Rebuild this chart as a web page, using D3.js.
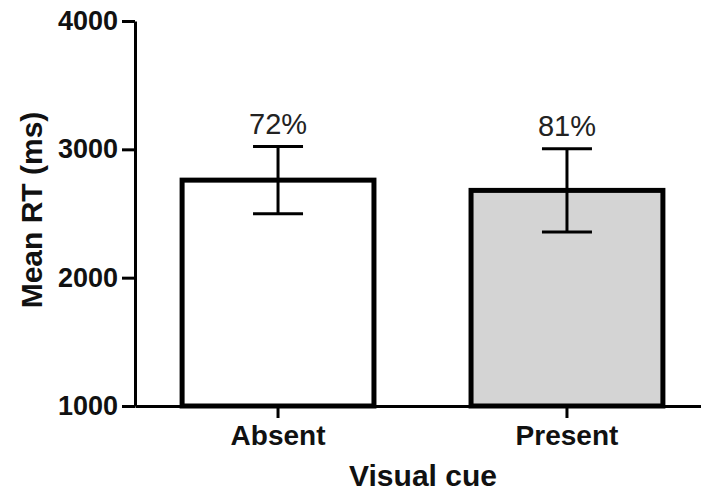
<!DOCTYPE html>
<html>
<head>
<meta charset="utf-8">
<script src="https://cdn.jsdelivr.net/npm/d3@7"></script>
<style>
  body { margin: 0; background: #fff; }
  text { font-family: Arial, "Liberation Sans", sans-serif; }
</style>
</head>
<body>
<svg id="chart" width="701" height="494"></svg>
<script>
// data
let categories = ["Absent", "Present"];
let meanRT = [2760, 2680];
let sem = [262, 325];
let accuracy = ["72%", "81%"];
let fills = ["#ffffff", "#d4d4d4"];
let yTicks = [1000, 2000, 3000, 4000];

let svg = d3.select("#chart");

let xScale = d3.scaleBand()
  .domain(categories)
  .range([135, 710])
  .paddingInner(0.336)
  .paddingOuter(0.163);

let yScale = d3.scaleLinear().domain([1000, 4000]).range([406, 21]);

let data = categories.map((c, i) => ({ cat: c, mean: meanRT[i], err: sem[i], acc: accuracy[i], fill: fills[i] }));

// bars
svg.append("g").selectAll("rect")
  .data(data)
  .enter()
  .append("rect")
  .attr("x", d => xScale(d.cat))
  .attr("y", d => yScale(d.mean))
  .attr("width", xScale.bandwidth())
  .attr("height", d => yScale(1000) - yScale(d.mean))
  .attr("fill", d => d.fill)
  .attr("stroke", "#000")
  .attr("stroke-width", 5);

// error bars
let eb = svg.append("g").attr("stroke", "#000").attr("stroke-width", 3);
data.forEach(d => {
  let cx = xScale(d.cat) + xScale.bandwidth() / 2;
  eb.append("line").attr("x1", cx).attr("x2", cx)
    .attr("y1", yScale(d.mean + d.err)).attr("y2", yScale(d.mean - d.err));
  [d.mean + d.err, d.mean - d.err].forEach(v => {
    eb.append("line").attr("x1", cx - 25).attr("x2", cx + 25)
      .attr("y1", yScale(v)).attr("y2", yScale(v));
  });
});

// percentage labels
svg.append("g").selectAll("text")
  .data(data)
  .enter()
  .append("text")
  .attr("x", d => xScale(d.cat) + xScale.bandwidth() / 2)
  .attr("y", d => yScale(d.mean + d.err) - 13)
  .attr("text-anchor", "middle")
  .attr("font-size", 29)
  .attr("fill", "#222")
  .text(d => d.acc);

// axes
let yAxis = svg.append("g")
  .attr("transform", "translate(135,0)")
  .call(d3.axisLeft(yScale).tickValues(yTicks).tickFormat(d3.format("d")).tickSize(13).tickSizeOuter(0).tickPadding(4));

let xAxis = svg.append("g")
  .attr("transform", "translate(0,406)")
  .call(d3.axisBottom(xScale).tickSize(12).tickSizeOuter(0).tickPadding(7));

[yAxis, xAxis].forEach(a => {
  a.select(".domain").attr("stroke", "#000").attr("stroke-width", 3);
  a.selectAll(".tick line").attr("stroke", "#000").attr("stroke-width", 3);
  a.selectAll(".tick text").attr("fill", "#111").attr("font-weight", "bold")
    .attr("font-family", "Arial, 'Liberation Sans', sans-serif");
});
yAxis.selectAll(".tick text").attr("font-size", 27);
xAxis.selectAll(".tick text").attr("font-size", 28);

// axis titles
svg.append("text")
  .attr("transform", "translate(42,210) rotate(-90)")
  .attr("text-anchor", "middle")
  .attr("font-size", 30)
  .attr("font-weight", "bold")
  .attr("fill", "#111")
  .text("Mean RT (ms)");

svg.append("text")
  .attr("x", 423)
  .attr("y", 486)
  .attr("text-anchor", "middle")
  .attr("font-size", 30)
  .attr("font-weight", "bold")
  .attr("fill", "#111")
  .text("Visual cue");
</script>
</body>
</html>
